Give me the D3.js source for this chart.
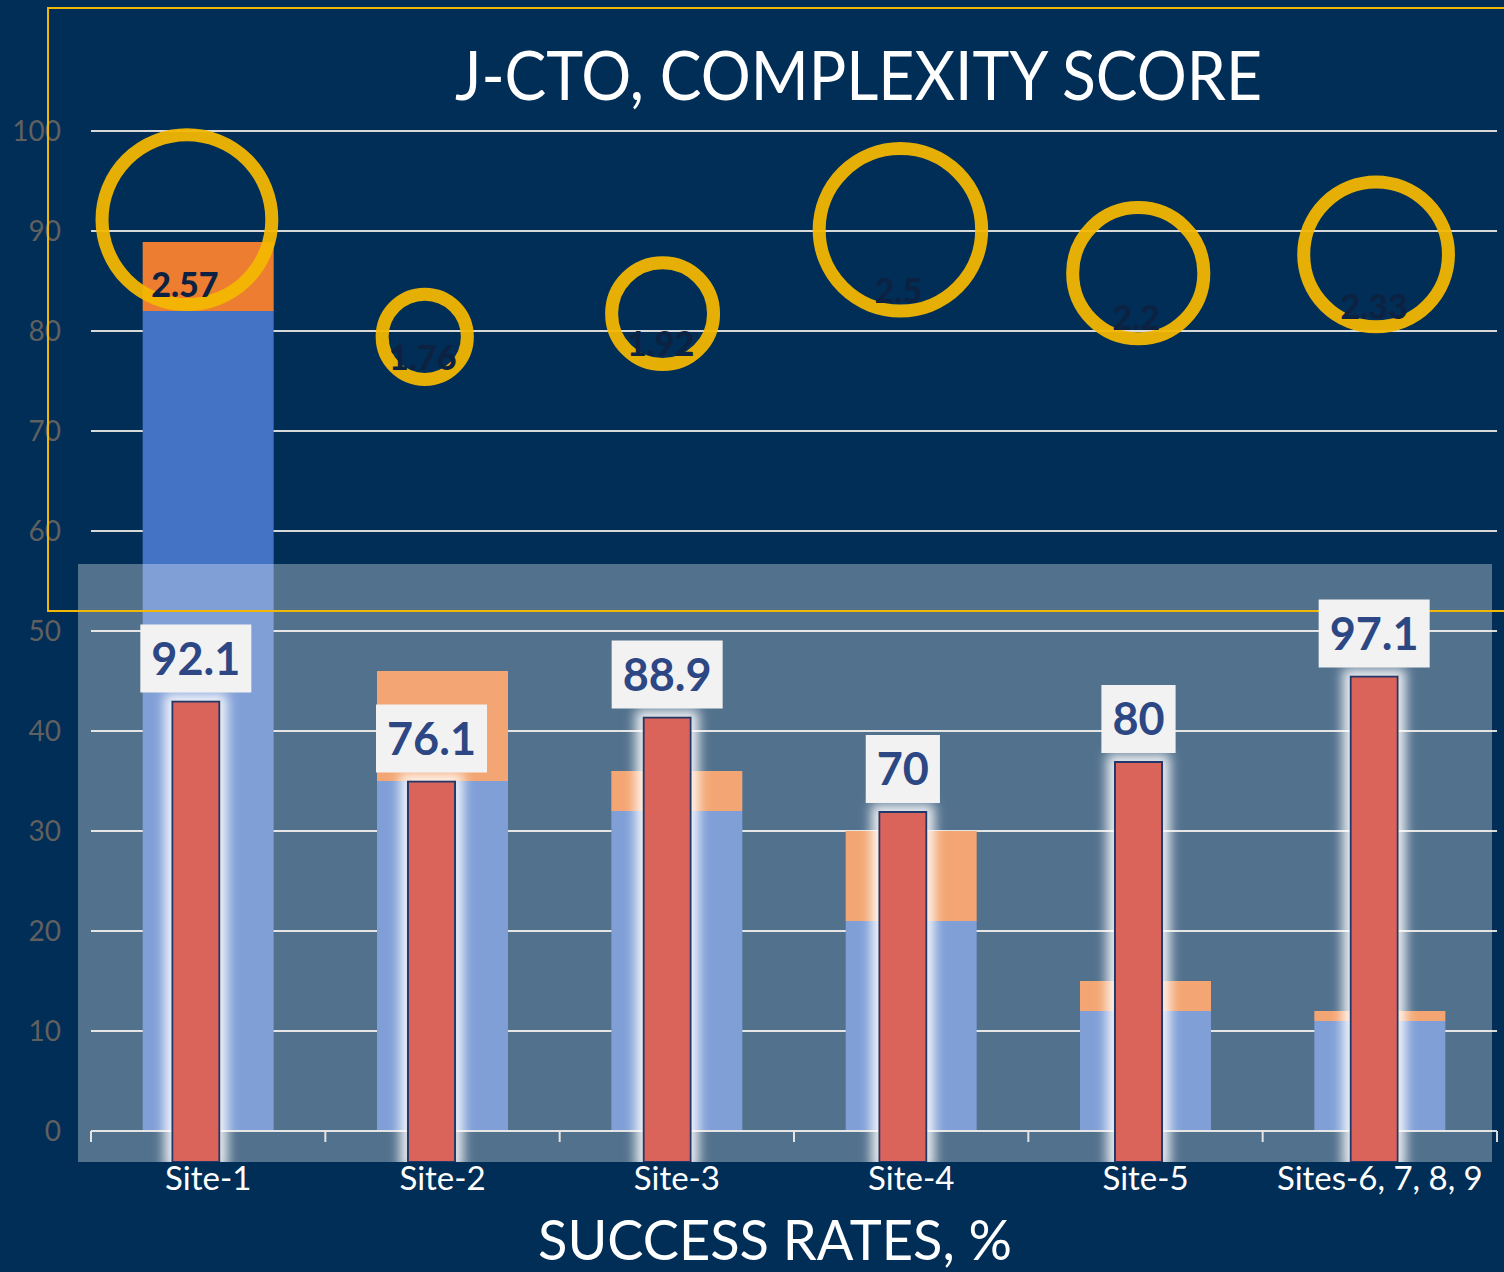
<!DOCTYPE html>
<html><head><meta charset="utf-8">
<script src="https://cdn.jsdelivr.net/npm/d3@7"></script>
<style>html,body{margin:0;padding:0;background:#002e57;overflow:hidden}svg{display:block}</style>
</head><body><svg id="c" width="1504" height="1272"></svg>
<script>
// ---- data ----
const categories = ["Site-1", "Site-2", "Site-3", "Site-4", "Site-5", "Sites-6, 7, 8, 9"];
const lowerSegment = [82, 35, 32, 21, 12, 11];
const upperSegment = [6.9, 11, 4, 9, 3, 1];
const successRates = [92.1, 76.1, 88.9, 70, 80, 97.1];
const complexityScores = [2.57, 1.76, 1.92, 2.5, 2.2, 2.33];
const yTickValues = [0, 10, 20, 30, 40, 50, 60, 70, 80, 90, 100];
const titleText = "J-CTO, COMPLEXITY SCORE";
const xTitleText = "SUCCESS RATES, %";

// ---- setup ----
const W = 1504, H = 1272;
const FONT = "Lato, 'Open Sans', sans-serif";
const svg = d3.select("#c");
const defs = svg.append("defs");

svg.append("rect").attr("width", W).attr("height", H).attr("fill", "#002e57");

// scales
const x = d3.scaleBand().domain(categories).range([91, 1497]).paddingInner(0.441).paddingOuter(0.2205);
const y = d3.scaleLinear().domain([0, 100]).range([1131, 131]);
const overlay = {x0: 78, x1: 1492, y0: 564, y1: 1162};
const xR = d3.scaleBand().domain(categories).range([overlay.x0, overlay.x1]).paddingInner(0.8).paddingOuter(0.4);
const yR = d3.scaleLinear().domain([0, 120]).range([overlay.y1, 562]);
const xC = d3.scaleBand().domain(categories).range([68, 1495]);
const cyScale = d3.scaleLinear().domain([1.76, 2.57]).range([336.8, 219.7]);
const rScale = d3.scaleLinear().domain([1.76, 2.57]).range([42.6, 84.9]);
const labelYScale = d3.scaleLinear().domain([1.76, 2.57]).range([370, 297]);

const rows = categories.map((c, i) => ({
  cat: c, low: lowerSegment[i], up: upperSegment[i],
  rate: successRates[i], score: complexityScores[i]
}));

// gridlines
svg.append("g").selectAll("line").data(yTickValues.filter(d => d > 0)).join("line")
  .attr("x1", 91).attr("x2", 1497)
  .attr("y1", d => y(d)).attr("y2", d => y(d))
  .attr("stroke", "#d9d9d9").attr("stroke-width", 2);

// stacked bars
const stack = svg.append("g");
stack.selectAll("rect.low").data(rows).join("rect").attr("class", "low")
  .attr("x", d => x(d.cat)).attr("width", x.bandwidth())
  .attr("y", d => y(d.low)).attr("height", d => y(0) - y(d.low))
  .attr("fill", "#4472c4");
stack.selectAll("rect.up").data(rows).join("rect").attr("class", "up")
  .attr("x", d => x(d.cat)).attr("width", x.bandwidth())
  .attr("y", d => y(d.low + d.up)).attr("height", d => y(d.low) - y(d.low + d.up))
  .attr("fill", "#ed7d31");

// x axis line + boundary ticks
const xAxis = svg.append("g");
xAxis.append("line").attr("x1", 91).attr("x2", 1497).attr("y1", y(0)).attr("y2", y(0))
  .attr("stroke", "#d9d9d9").attr("stroke-width", 2);
const bounds = d3.range(categories.length + 1).map(i => x.range()[0] + i * x.step());
xAxis.selectAll("line.t").data(bounds).join("line").attr("class", "t")
  .attr("x1", d => d).attr("x2", d => d).attr("y1", y(0)).attr("y2", y(0) + 11)
  .attr("stroke", "#d9d9d9").attr("stroke-width", 2);

// y tick labels
svg.append("g").selectAll("text").data(yTickValues).join("text")
  .attr("x", 61).attr("y", d => y(d)).attr("dy", "0.36em")
  .attr("text-anchor", "end").attr("font-family", FONT).attr("font-size", 28)
  .attr("fill", "#606060").text(d => d);

// translucent overlay panel
svg.append("rect").attr("x", overlay.x0).attr("y", overlay.y0)
  .attr("width", overlay.x1 - overlay.x0).attr("height", overlay.y1 - overlay.y0)
  .attr("fill", "#ffffff").attr("fill-opacity", 0.32);

// yellow frame
svg.append("rect").attr("x", 48).attr("y", 8).attr("width", 1480).attr("height", 603)
  .attr("fill", "none").attr("stroke", "#f2b705").attr("stroke-width", 2);

// complexity circles
svg.append("g").selectAll("circle").data(rows).join("circle")
  .attr("cx", d => xC(d.cat) + xC.bandwidth() / 2)
  .attr("cy", d => cyScale(d.score))
  .attr("r", d => rScale(d.score))
  .attr("fill", "none").attr("stroke", "#f4b800").attr("stroke-opacity", 0.94)
  .attr("stroke-width", 13);

// complexity labels
svg.append("g").selectAll("text").data(rows).join("text")
  .attr("x", d => xC(d.cat) + xC.bandwidth() / 2 - 2)
  .attr("y", d => labelYScale(d.score))
  .attr("text-anchor", "middle").attr("font-family", FONT).attr("font-weight", 900)
  .attr("font-size", 34).attr("fill", "#0c2242").text(d => d.score);

// glow filter + clip for red bars
const f = defs.append("filter").attr("id", "glow")
  .attr("x", "-80%").attr("y", "-20%").attr("width", "260%").attr("height", "140%");
f.append("feMorphology").attr("in", "SourceAlpha").attr("operator", "dilate").attr("radius", 7).attr("result", "d");
f.append("feGaussianBlur").attr("in", "d").attr("stdDeviation", 6).attr("result", "b");
f.append("feFlood").attr("flood-color", "#ffffff").attr("flood-opacity", 0.88).attr("result", "fl");
f.append("feComposite").attr("in", "fl").attr("in2", "b").attr("operator", "in").attr("result", "g");
const m = f.append("feMerge");
m.append("feMergeNode").attr("in", "g");
m.append("feMergeNode").attr("in", "SourceGraphic");

defs.append("clipPath").attr("id", "ov").append("rect")
  .attr("x", overlay.x0).attr("y", 0).attr("width", overlay.x1 - overlay.x0).attr("height", overlay.y1);

const red = svg.append("g").attr("clip-path", "url(#ov)");
red.selectAll("rect").data(rows).join("rect")
  .attr("x", d => xR(d.cat)).attr("width", xR.bandwidth())
  .attr("y", d => yR(d.rate)).attr("height", d => yR(0) - yR(d.rate))
  .attr("fill", "#da645a").attr("stroke", "#22386a").attr("stroke-width", 2)
  .attr("filter", "url(#glow)");

// value labels with boxes
const lab = svg.append("g").selectAll("g").data(rows).join("g");
lab.append("text")
  .attr("x", d => xR(d.cat) + xR.bandwidth() / 2)
  .attr("y", d => yR(d.rate) - 9 - 34 + 16)
  .attr("text-anchor", "middle").attr("font-family", FONT).attr("font-weight", 700)
  .attr("font-size", 45).attr("fill", "#2d4784").text(d => d.rate);
lab.each(function(d) {
  const g = d3.select(this);
  const t = g.select("text");
  const w = t.node().getComputedTextLength();
  const cx = xR(d.cat) + xR.bandwidth() / 2;
  const bottom = yR(d.rate) - 9;
  g.insert("rect", "text").attr("x", cx - w / 2 - 11).attr("y", bottom - 68)
    .attr("width", w + 22).attr("height", 68).attr("fill", "#f2f2f2");
});

// x tick labels
svg.append("g").selectAll("text").data(categories).join("text")
  .attr("x", d => x(d) + x.bandwidth() / 2).attr("y", 1190)
  .attr("text-anchor", "middle").attr("font-family", FONT).attr("font-size", 33)
  .attr("fill", "#ffffff").text(d => d);

// titles
svg.append("text").attr("x", 858.5).attr("y", 100).attr("text-anchor", "middle")
  .attr("font-family", FONT).attr("font-size", 67).attr("fill", "#ffffff")
  .attr("textLength", 807).attr("lengthAdjust", "spacingAndGlyphs").text(titleText);
svg.append("text").attr("x", 775).attr("y", 1260).attr("text-anchor", "middle")
  .attr("font-family", FONT).attr("font-size", 56).attr("fill", "#ffffff")
  .attr("textLength", 474).attr("lengthAdjust", "spacingAndGlyphs").text(xTitleText);
</script>
</body></html>
